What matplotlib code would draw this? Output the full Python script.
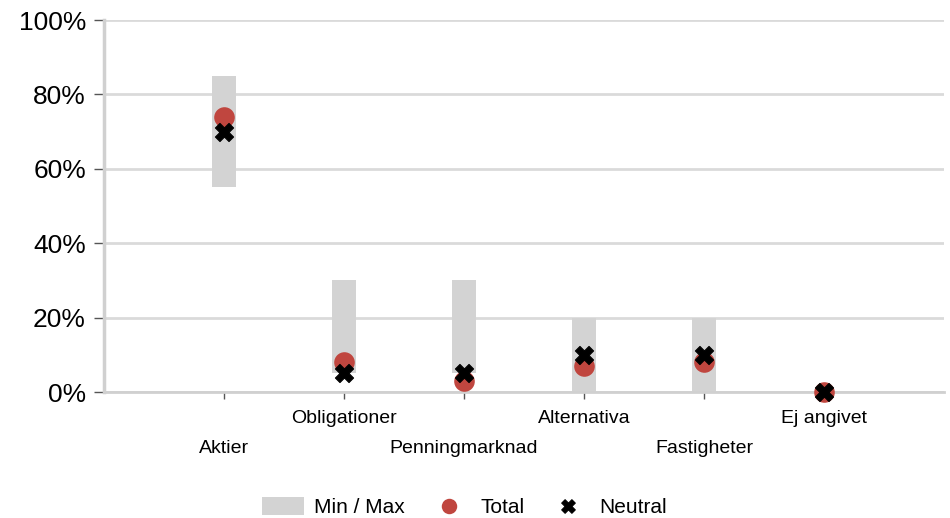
import matplotlib.pyplot as plt
from matplotlib.ticker import FuncFormatter

plt.rcParams['font.family'] = ['Liberation Sans', 'DejaVu Sans']

categories = ['Aktier', 'Obligationer', 'Penningmarknad', 'Alternativa', 'Fastigheter', 'Ej angivet']
min_vals = [55, 5, 5, 0, 0, 0]
max_vals = [85, 30, 30, 20, 20, 0]
total = [74, 8, 3, 7, 8, 0]
neutral = [70, 5, 5, 10, 10, 0]

fig = plt.figure(figsize=(9.5, 5.18), dpi=100)
ax = fig.add_axes([104 / 950, 1 - 392 / 518, 840 / 950, 372 / 518])

x = list(range(len(categories)))
heights = [mx - mn for mn, mx in zip(min_vals, max_vals)]
bars = ax.bar(x, heights, bottom=min_vals, width=0.2, color='#d3d3d3', label='Min / Max', zorder=2)
dots = ax.scatter(x, total, s=220, color='#c0463f', label='Total', zorder=5, linewidths=0, clip_on=False)
crosses = ax.scatter(x, neutral, s=170, marker='X', color='black', label='Neutral', zorder=6,
                     linewidths=0.8, clip_on=False)

ax.set_xlim(-1, 6)
ax.set_ylim(0, 100)
ax.set_yticks([0, 20, 40, 60, 80, 100])
ax.yaxis.set_major_formatter(FuncFormatter(lambda v, p: f'{v:.0f}%'))
ax.tick_params(axis='y', labelsize=19, length=7, color='#555555', width=1, pad=6)
ax.set_xticks(x)
ax.set_xticklabels([])
ax.tick_params(axis='x', length=5, color='#555555', width=1)

for i, name in enumerate(categories):
    yoff = -0.07 if i % 2 else -0.151
    ax.text(i, yoff, name, transform=ax.get_xaxis_transform(), ha='center', va='center',
            fontsize=14)

ax.grid(axis='y', color='#dadada', linewidth=2, zorder=0)
ax.set_axisbelow(True)
for s in ['top', 'right']:
    ax.spines[s].set_visible(False)
ax.spines['left'].set_color('#d0d0d0')
ax.spines['left'].set_linewidth(2.5)
ax.spines['bottom'].set_color('#d0d0d0')
ax.spines['bottom'].set_linewidth(2)

fig.legend(handles=[bars, dots, crosses], loc='center', bbox_to_anchor=(0.489, 1 - 507 / 518),
           ncol=3, frameon=False, fontsize=15, handlelength=2.0, handleheight=1.0,
           handletextpad=0.5, columnspacing=1.1, markerscale=0.75)

fig.savefig('out.png', dpi=100)
